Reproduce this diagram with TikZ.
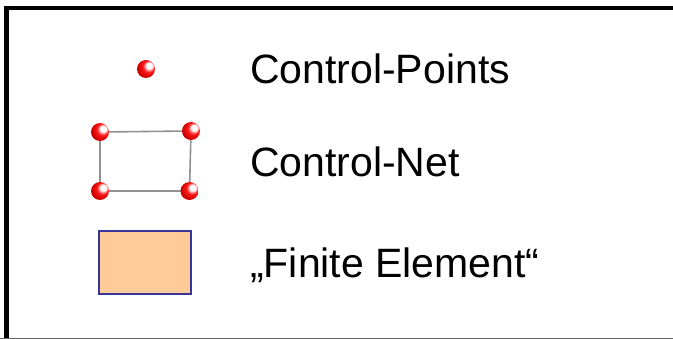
\documentclass[tikz,border=0pt]{standalone}
\usepackage{fontspec}
\setmainfont{Liberation Sans}
\usetikzlibrary{backgrounds}
\pgfdeclareradialshading{redball}{\pgfpoint{11bp}{11bp}}{%
  color(0bp)=(white); color(8bp)=(white); color(16bp)=(red!90!white);
  color(28bp)=(red!80!black); color(40bp)=(red!55!black); color(50bp)=(red!40!black)}
\definecolor{netgrey}{RGB}{145,145,145}
\definecolor{feborder}{RGB}{55,55,155}
\definecolor{fefill}{RGB}{255,204,153}
\tikzset{
  ctrlball/.style={circle, inner sep=0pt, minimum size=18pt, shading=redball},
  netline/.style={draw=netgrey, line width=1.6pt},
  febox/.style={draw=feborder, fill=fefill, line width=2pt},
  legtext/.style={anchor=base west, inner sep=0pt, font=\fontsize{41}{48}\selectfont},
  framebold/.style={draw=black, line width=4.5pt},
  framethin/.style={draw=black!60, line width=1.2pt}
}
\begin{document}
\begin{tikzpicture}[x=1pt, y=-1pt]
\useasboundingbox (0,0) rectangle (673,339);
\clip (0,0) rectangle (673,339);
% frame
\coordinate (fbl) at (6.5,339);
\coordinate (ftl) at (6.5,8);
\coordinate (ftr) at (673,8);
\coordinate (bl) at (0,338.2);
\coordinate (br) at (673,338.2);
\draw[framebold, line cap=butt] (fbl) -- (ftl) -- (ftr);
\draw[framethin] (bl) -- (br);
% single control point
\node[ctrlball] (p0) at (146,69) {};
% control net
\node[ctrlball] (n1) at (100,132) {};
\node[ctrlball] (n2) at (191,131) {};
\node[ctrlball] (n3) at (189.5,191) {};
\node[ctrlball] (n4) at (100,191) {};
\begin{pgfonlayer}{background}
\draw[netline] (n1.center) -- (n2.center) -- (n3.center) -- (n4.center) -- cycle;
\end{pgfonlayer}
% finite element
\node[febox, minimum width=92pt, minimum height=63pt, inner sep=0pt] (fe) at (144.7,263) {};
% labels
\node[legtext] (t1) at (250,84) {Control-Points};
\node[legtext] (t2) at (250,177) {Control-Net};
\node[legtext] (t3) at (250,278) {„Finite Element“};
\end{tikzpicture}
\end{document}
